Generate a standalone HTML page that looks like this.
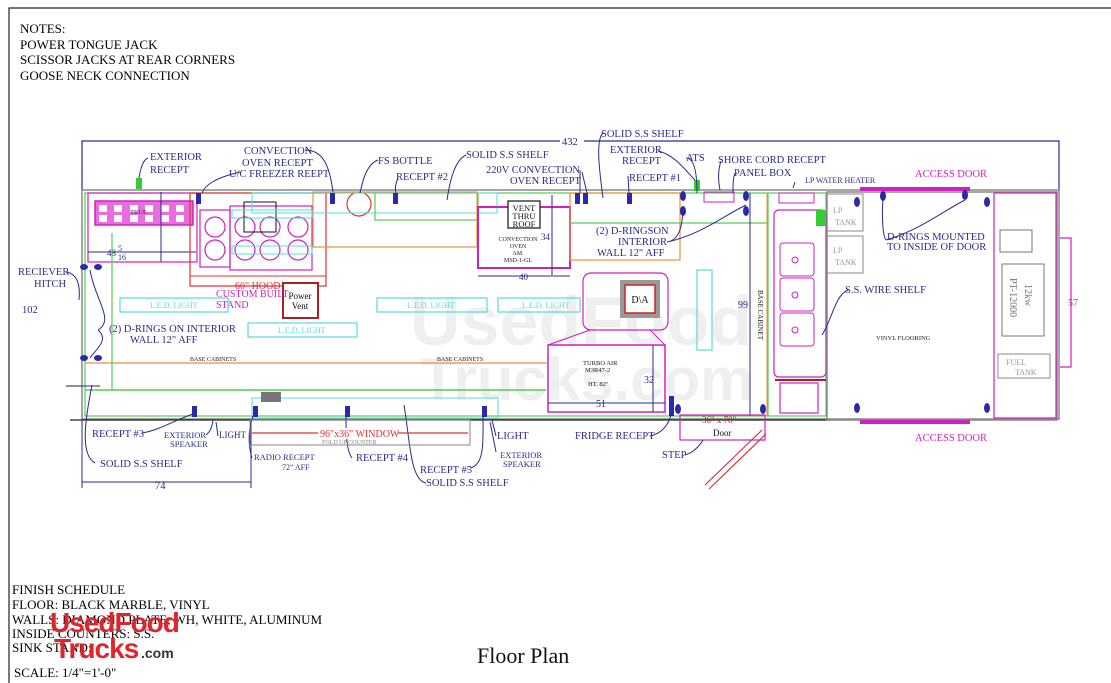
<!DOCTYPE html>
<html><head><meta charset="utf-8"><style>
html,body{margin:0;padding:0;background:#fff;}
svg{display:block;}
.b{fill:#2a2a8c;}
.s{fill:#333;font-size:6.5px;}
.k{fill:#000;font-size:13px;}
.m{fill:#d020c0;font-size:10.5px;}
.c{fill:#5dd;font-size:8px;}
</style></head><body>
<svg width="1111" height="683" viewBox="0 0 1111 683" xmlns="http://www.w3.org/2000/svg" font-family="Liberation Serif, serif" font-size="10.5">
<rect width="1111" height="683" fill="#fff"/>
<path d="M9,683 V8 H1111" fill="none" stroke="#222" stroke-width="1.2"/>
<text class="k" x="20" y="33">NOTES:</text>
<text class="k" x="20" y="49">POWER TONGUE JACK</text>
<text class="k" x="20" y="64">SCISSOR JACKS AT REAR CORNERS</text>
<text class="k" x="20" y="80">GOOSE NECK CONNECTION</text>

<text x="410" y="345" font-family="Liberation Sans, sans-serif" font-weight="bold" font-size="70" fill="#000" opacity="0.06">UsedFood</text>
<text x="420" y="400" font-family="Liberation Sans, sans-serif" font-weight="bold" font-size="60" fill="#000" opacity="0.06">Trucks.com</text>

<path d="M82,190 V141 H1059 V190" fill="none" stroke="#2a2a8c" stroke-width="1.2"/>
<rect x="560" y="136" width="24" height="10" fill="#fff"/>
<text class="b" x="562" y="145">432</text>

<rect x="82" y="190" width="977" height="229" fill="none" stroke="#888" stroke-width="1.5"/>
<rect x="85" y="193" width="741" height="223" fill="none" stroke="#5c5" stroke-width="1.2"/>
<line x1="70" y1="420" x2="830" y2="420" stroke="#222" stroke-width="1.2"/>
<line x1="66" y1="386" x2="100" y2="386" stroke="#222" stroke-width="1"/>

<rect x="88" y="193" width="109" height="69" fill="none" stroke="#d020c0" stroke-width="1.2"/>
<rect x="95" y="201" width="98" height="24" fill="#e86ee0" stroke="#d020c0" stroke-width="1.5"/>
<g fill="#fff">
<rect x="99" y="205" width="8" height="7"/><rect x="114" y="205" width="8" height="7"/><rect x="130" y="205" width="8" height="7"/><rect x="145" y="205" width="8" height="7"/><rect x="161" y="205" width="8" height="7"/><rect x="176" y="205" width="8" height="7"/>
<rect x="99" y="215" width="8" height="7"/><rect x="114" y="215" width="8" height="7"/><rect x="130" y="215" width="8" height="7"/><rect x="145" y="215" width="8" height="7"/><rect x="161" y="215" width="8" height="7"/><rect x="176" y="215" width="8" height="7"/>
</g>
<text class="s" x="130" y="214">TRUE</text>
<path d="M88,252 H196 M161,192 V262" stroke="#2a2a8c" stroke-width="1" fill="none"/>
<text class="b" x="107" y="256" font-size="9">48</text><text class="b" x="118" y="251" font-size="8">5</text><text class="b" x="118" y="260" font-size="8">16</text>
<rect x="190" y="193" width="136" height="93" fill="none" stroke="#d33" stroke-width="1.2"/>
<line x1="190" y1="276" x2="326" y2="276" stroke="#d33"/>
<rect x="200" y="210" width="30" height="57" fill="none" stroke="#d020c0" stroke-width="1.2"/>
<rect x="230" y="206" width="82" height="64" fill="none" stroke="#d020c0" stroke-width="1.2"/>
<g fill="none" stroke="#d020c0" stroke-width="1.2">
<circle cx="215" cy="227" r="10"/><circle cx="215" cy="250" r="10"/>
<circle cx="245" cy="227" r="10"/><circle cx="270" cy="227" r="10"/><circle cx="298" cy="227" r="10"/>
<circle cx="245" cy="250" r="10"/><circle cx="270" cy="250" r="10"/><circle cx="298" cy="250" r="10"/>
</g>
<rect x="244" y="202" width="32" height="30" fill="none" stroke="#111"/>
<rect x="232" y="210" width="80" height="8" fill="none" stroke="#5dd"/>
<rect x="232" y="246" width="80" height="8" fill="none" stroke="#5dd"/>
<rect x="283" y="283" width="35" height="35" fill="#fff" stroke="#a22" stroke-width="2"/>
<text x="300" y="299" text-anchor="middle" font-size="9" fill="#111">Power</text>
<text x="300" y="309" text-anchor="middle" font-size="9" fill="#111">Vent</text>
<text x="235" y="289" fill="#d33" font-size="10">60" HOOD</text>
<text x="216" y="297" fill="#d020c0" font-size="10">CUSTOM BUILT</text>
<text x="216" y="308" fill="#d020c0" font-size="10">STAND</text>
<circle cx="359" cy="204" r="12" fill="none" stroke="#d33" stroke-width="1.2"/>
<rect x="313" y="192" width="164" height="55" fill="none" stroke="#e8913a" stroke-width="1.2"/>
<rect x="375" y="193" width="103" height="27" fill="none" stroke="#5c5" stroke-width="1.2"/>
<rect x="252" y="193" width="245" height="20" fill="none" stroke="#5dd" stroke-width="1"/>
<rect x="478" y="207" width="92" height="61" fill="none" stroke="#d020c0" stroke-width="2"/>
<rect x="508" y="201" width="32" height="27" fill="#fff" stroke="#111" stroke-width="1.2"/>
<text x="524" y="211" text-anchor="middle" font-size="8.5" fill="#111">VENT</text>
<text x="524" y="219" text-anchor="middle" font-size="8.5" fill="#111">THRU</text>
<text x="524" y="227" text-anchor="middle" font-size="8.5" fill="#111">ROOF</text>
<text x="518" y="241" text-anchor="middle" font-size="6" fill="#222">CONVECTION</text>
<text x="518" y="248" text-anchor="middle" font-size="6" fill="#222">OVEN</text>
<text x="518" y="255" text-anchor="middle" font-size="6" fill="#222">AM.</text>
<text x="518" y="262" text-anchor="middle" font-size="6" fill="#222">MSD-1-GL</text>
<path d="M478,276 H570 M552,195 V275" stroke="#2a2a8c" fill="none"/>
<text class="b" x="519" y="280" font-size="9">40</text>
<text class="b" x="541" y="240" font-size="9">34</text>
<rect x="570" y="193" width="110" height="67" fill="none" stroke="#e8913a" stroke-width="1.2"/>
<line x1="570" y1="223" x2="767" y2="223" stroke="#5c5" stroke-width="1.2"/>
<g fill="none" stroke="#5dd" stroke-width="1.2">
<rect x="120" y="298" width="108" height="14"/><rect x="248" y="323" width="109" height="14"/>
<rect x="377" y="298" width="110" height="14"/><rect x="498" y="298" width="82" height="14"/>
<rect x="697" y="270" width="15" height="80"/>
</g>
<text class="c" x="150" y="308">L.E.D.  LIGHT</text><text class="c" x="278" y="333">L.E.D.  LIGHT</text><text class="c" x="407" y="308">L.E.D.  LIGHT</text><text class="c" x="522" y="308">L.E.D.  LIGHT</text>
<rect x="583" y="273" width="85" height="57" rx="8" fill="none" stroke="#d020c0" stroke-width="1.2"/>
<rect x="620" y="280" width="40" height="38" fill="#999"/>
<rect x="625" y="285" width="30" height="28" fill="#fff" stroke="#c22" stroke-width="1.5"/>
<text x="640" y="303" text-anchor="middle" font-size="10" fill="#111">D\A</text>
<path d="M590,330 L548,345 M650,330 L665,345" stroke="#d020c0" fill="none"/>
<rect x="548" y="345" width="117" height="67" fill="none" stroke="#d020c0" stroke-width="1.5"/>
<text x="583" y="365" font-size="6.5" fill="#222">TURBO AIR</text>
<text x="585" y="372" font-size="6.5" fill="#222">M3R47-2</text>
<text x="588" y="386" font-size="6.5" fill="#222">HT. 82"</text>
<path d="M548,403 H665 M653,345 V412" stroke="#2a2a8c" fill="none"/>
<text class="b" x="596" y="407" font-size="10">51</text>
<text class="b" x="644" y="383" font-size="10">32</text>
<line x1="85" y1="363" x2="548" y2="363" stroke="#e8913a" stroke-width="1.2"/>
<line x1="85" y1="390" x2="546" y2="390" stroke="#5c5" stroke-width="1.5"/>
<line x1="112" y1="233" x2="112" y2="390" stroke="#5c5" stroke-width="1.2"/>
<text x="190" y="361" font-size="6" fill="#222">BASE CABINETS</text>
<text x="437" y="361" font-size="6" fill="#222">BASE CABINETS</text>
<rect x="252" y="398" width="246" height="20" fill="none" stroke="#5dd" stroke-width="1"/>
<rect x="261" y="392" width="20" height="10" fill="#777"/>
<line x1="750" y1="193" x2="750" y2="416" stroke="#2a2a8c"/>
<line x1="768" y1="193" x2="768" y2="416" stroke="#5c5" stroke-width="1.2"/>
<line x1="767" y1="193" x2="767" y2="416" stroke="#e8913a"/>
<text class="b" x="738" y="308" font-size="10">99</text>
<text x="758" y="290" font-size="7" fill="#222" transform="rotate(90 758 290)">BASE CABINET</text>
<rect x="774" y="210" width="52" height="167" rx="5" fill="none" stroke="#d020c0" stroke-width="1.2"/>
<rect x="780" y="243" width="34" height="33" rx="3" fill="none" stroke="#d020c0"/>
<rect x="780" y="278" width="34" height="33" rx="3" fill="none" stroke="#d020c0"/>
<rect x="780" y="313" width="34" height="33" rx="3" fill="none" stroke="#d020c0"/>
<circle cx="795" cy="260" r="3" fill="none" stroke="#d020c0"/><circle cx="795" cy="295" r="3" fill="none" stroke="#d020c0"/><circle cx="795" cy="330" r="3" fill="none" stroke="#d020c0"/>
<rect x="779" y="193" width="35" height="10" fill="none" stroke="#d020c0"/>
<rect x="780" y="383" width="38" height="30" fill="none" stroke="#d020c0" stroke-width="1.2"/>
<line x1="775" y1="380" x2="826" y2="380" stroke="#a22" stroke-width="2"/>
<rect x="816" y="210" width="10" height="16" fill="#3c3"/>
<rect x="680" y="415" width="85" height="25" fill="none" stroke="#d020c0" stroke-width="1.2"/>
<text x="713" y="436" font-size="9" fill="#111">Door</text>
<text x="702" y="423" font-size="9" fill="#a22">36" x 78"</text>
<path d="M705,485 L762,430 M709,489 L766,434" stroke="#d33" stroke-width="1.2"/>
<rect x="827" y="192" width="230" height="228" fill="none" stroke="#888" stroke-width="1.5"/>
<rect x="994" y="193" width="62" height="225" fill="none" stroke="#d020c0" stroke-width="1.2"/>
<rect x="860" y="187" width="110" height="4" fill="#d020c0"/>
<rect x="860" y="420" width="110" height="4" fill="#d020c0"/>
<rect x="827" y="194" width="36" height="37" fill="none" stroke="#888"/>
<rect x="827" y="236" width="36" height="37" fill="none" stroke="#888"/>
<text x="833" y="213" font-size="8" fill="#999">LP</text><text x="835" y="225" font-size="8" fill="#999">TANK</text>
<text x="833" y="253" font-size="8" fill="#999">LP</text><text x="835" y="265" font-size="8" fill="#999">TANK</text>
<rect x="1000" y="230" width="32" height="22" fill="none" stroke="#777"/>
<rect x="1002" y="264" width="42" height="72" fill="none" stroke="#777"/>
<rect x="998" y="354" width="52" height="24" fill="none" stroke="#888"/>
<text x="1006" y="365" font-size="8" fill="#999">FUEL</text><text x="1015" y="375" font-size="8" fill="#999">TANK</text>
<text x="1010" y="278" font-size="10" fill="#777" transform="rotate(90 1010 278)">PT-12000</text>
<text x="1025" y="284" font-size="10" fill="#777" transform="rotate(90 1025 284)">12kw</text>
<path d="M1060,238 H1071 V367 H1060" fill="none" stroke="#d020c0" stroke-width="1.2"/>
<text x="1068" y="306" font-size="10" fill="#d020c0">57</text>
<text x="876" y="340" font-size="6.5" fill="#222">VINYL FLOORING</text>
<text class="m" x="915" y="177">ACCESS DOOR</text>
<text class="m" x="915" y="441">ACCESS DOOR</text>
<g fill="#2a2aa8">
<ellipse cx="84" cy="267" rx="4" ry="3"/><ellipse cx="98" cy="267" rx="4" ry="3"/>
<ellipse cx="84" cy="358" rx="4" ry="3"/><ellipse cx="98" cy="358" rx="4" ry="3"/>
<ellipse cx="683" cy="196" rx="3" ry="5"/><ellipse cx="683" cy="211" rx="3" ry="5"/>
<ellipse cx="746" cy="196" rx="3" ry="5"/><ellipse cx="746" cy="211" rx="3" ry="5"/>
<ellipse cx="883" cy="196" rx="3" ry="5"/><ellipse cx="965" cy="195" rx="3" ry="5"/>
<ellipse cx="857" cy="202" rx="3" ry="5"/><ellipse cx="987" cy="202" rx="3" ry="5"/>
<ellipse cx="857" cy="408" rx="3" ry="5"/><ellipse cx="987" cy="408" rx="3" ry="5"/>
<ellipse cx="678" cy="409" rx="3" ry="5"/><ellipse cx="763" cy="409" rx="3" ry="5"/>
<rect x="196" y="193" width="5" height="11"/><rect x="330" y="193" width="5" height="11"/><rect x="393" y="193" width="5" height="11"/>
<rect x="575" y="193" width="5" height="11"/><rect x="583" y="193" width="5" height="11"/><rect x="627" y="193" width="5" height="11"/>
<rect x="192" y="406" width="5" height="11"/><rect x="253" y="406" width="5" height="11"/><rect x="345" y="406" width="5" height="11"/><rect x="482" y="406" width="5" height="11"/><rect x="669" y="396" width="5" height="20"/>
</g>
<rect x="136" y="178" width="6" height="11" fill="#3c3"/>
<rect x="694" y="180" width="6" height="11" fill="#3c3"/>
<rect x="704" y="192" width="30" height="10" fill="none" stroke="#d020c0"/>
<g fill="none" stroke="#2a2a8c" stroke-width="1">
<path d="M148,158 C142,160 140,172 139,178"/>
<path d="M240,172 C215,178 205,185 202,193"/>
<path d="M305,150 C325,150 330,170 333,192"/>
<path d="M378,160 C365,165 362,185 360,193"/>
<path d="M398,178 C395,185 395,190 396,193"/>
<path d="M466,155 C455,160 450,180 447,200"/>
<path d="M580,170 L580,193 M582,172 L587,193"/>
<path d="M603,133 C595,140 600,175 603,198"/>
<path d="M658,151 C675,155 685,170 695,180"/>
<path d="M686,158 C695,158 697,175 697,193"/>
<path d="M721,161 C718,170 718,180 720,190"/>
<path d="M735,173 C733,178 733,185 733,193"/>
<path d="M795,182 L793,188"/>
<path d="M628,176 L629,193"/>
<path d="M667,242 C680,240 682,225 683,212 M667,242 C700,235 725,215 746,205"/>
<path d="M886,240 C882,235 882,210 883,199 M886,240 C920,230 945,210 965,200"/>
<path d="M848,290 C835,295 832,320 822,335"/>
<path d="M67,272 C80,275 80,290 79,300"/>
<path d="M98,330 C115,320 95,300 90,270 M98,330 C110,340 95,350 90,358"/>
<path d="M95,463 C80,455 85,420 92,385"/>
<path d="M142,433 C160,430 175,420 193,414"/>
<path d="M206,435 C212,430 212,425 213,420"/>
<path d="M218,436 L216,422"/>
<path d="M252,458 C248,445 248,430 253,416"/>
<path d="M352,458 C346,450 346,430 346,416"/>
<path d="M470,468 C485,465 483,440 483,416"/>
<path d="M496,436 L492,420"/>
<path d="M496,452 L490,422"/>
<path d="M426,483 C410,480 410,440 404,405"/>
<path d="M650,436 C665,433 670,420 671,414"/>
<path d="M685,455 C695,452 700,445 703,440"/>
<path d="M82,420 V488 M82,482 H251 M251,420 V488"/>
<path d="M82,386 H96"/>
</g>
<g class="b">
<text x="150" y="160">EXTERIOR</text><text x="150" y="173">RECEPT</text>
<text x="244" y="154">CONVECTION</text><text x="242" y="166">OVEN RECEPT</text>
<text x="229" y="177">U/C FREEZER REEPT</text>
<text x="378" y="164">FS BOTTLE</text>
<text x="396" y="180">RECEPT #2</text>
<text x="466" y="158">SOLID S.S SHELF</text>
<text x="486" y="173">220V CONVECTION</text><text x="510" y="184">OVEN RECEPT</text>
<text x="601" y="137">SOLID S.S SHELF</text>
<text x="610" y="153">EXTERIOR</text><text x="622" y="164">RECEPT</text>
<text x="629" y="181">RECEPT #1</text>
<text x="686" y="161">ATS</text>
<text x="718" y="163">SHORE CORD RECEPT</text>
<text x="734" y="176">PANEL BOX</text>
<text x="805" y="183" font-size="8">LP WATER HEATER</text>
<text x="596" y="234">(2) D-RINGSON</text>
<text x="618" y="245">INTERIOR</text>
<text x="597" y="256">WALL  12" AFF</text>
<text x="887" y="240">D-RINGS MOUNTED</text>
<text x="887" y="250">TO INSIDE OF DOOR</text>
<text x="845" y="293">S.S. WIRE SHELF</text>
<text x="18" y="275">RECIEVER</text><text x="34" y="287">HITCH</text>
<text x="22" y="313">102</text>
<text x="109" y="332">(2) D-RINGS ON INTERIOR</text>
<text x="130" y="343">WALL  12" AFF</text>
<text x="92" y="437">RECEPT #3</text>
<text x="164" y="438" font-size="8.5">EXTERIOR</text><text x="170" y="447" font-size="8.5">SPEAKER</text>
<text x="219" y="438" font-size="9">LIGHT</text>
<text x="100" y="467">SOLID S.S SHELF</text>
<text x="254" y="460" font-size="8.5">RADIO RECEPT</text><text x="282" y="470" font-size="8">72" AFF</text>
<text x="356" y="461">RECEPT #4</text>
<text x="420" y="473">RECEPT #5</text>
<text x="426" y="486">SOLID S.S SHELF</text>
<text x="497" y="439">LIGHT</text>
<text x="500" y="458" font-size="8.5">EXTERIOR</text><text x="503" y="467" font-size="8.5">SPEAKER</text>
<text x="575" y="439">FRIDGE RECEPT</text>
<text x="662" y="458">STEP</text>
<text x="155" y="489">74</text>
</g>
<rect x="250" y="420" width="220" height="25" fill="none" stroke="#888"/>
<path d="M252,433 H468" stroke="#d33" stroke-width="1.2"/>
<rect x="318" y="428" width="80" height="11" fill="#fff"/>
<text x="320" y="437" font-size="10" fill="#d33">96"x36" WINDOW</text>
<text x="322" y="444" font-size="6" fill="#888">FOLD UP COUNTER</text>
<text class="k" x="12" y="594">FINISH SCHEDULE</text>
<text class="k" x="12" y="609">FLOOR:  BLACK MARBLE, VINYL</text>
<text class="k" x="12" y="624">WALLS:  DIAMOND PLATE, WH, WHITE, ALUMINUM</text>
<text class="k" x="12" y="638">INSIDE COUNTERS:  S.S.</text>
<text class="k" x="12" y="652">SINK STAND:</text>
<text class="k" x="14" y="677">SCALE: 1/4"=1'-0"</text>
<text x="50" y="632" font-family="Liberation Sans, sans-serif" font-weight="bold" font-size="28" fill="#e0242c" letter-spacing="-1">UsedFood</text>
<text x="54" y="658" font-family="Liberation Sans, sans-serif" font-weight="bold" font-size="28" fill="#e0242c" letter-spacing="-1">Trucks</text>
<text x="141" y="658" font-family="Liberation Sans, sans-serif" font-weight="bold" font-size="14" fill="#333">.com</text>
<text x="477" y="663" font-size="22" fill="#111">Floor Plan</text>
</svg>
</body></html>
